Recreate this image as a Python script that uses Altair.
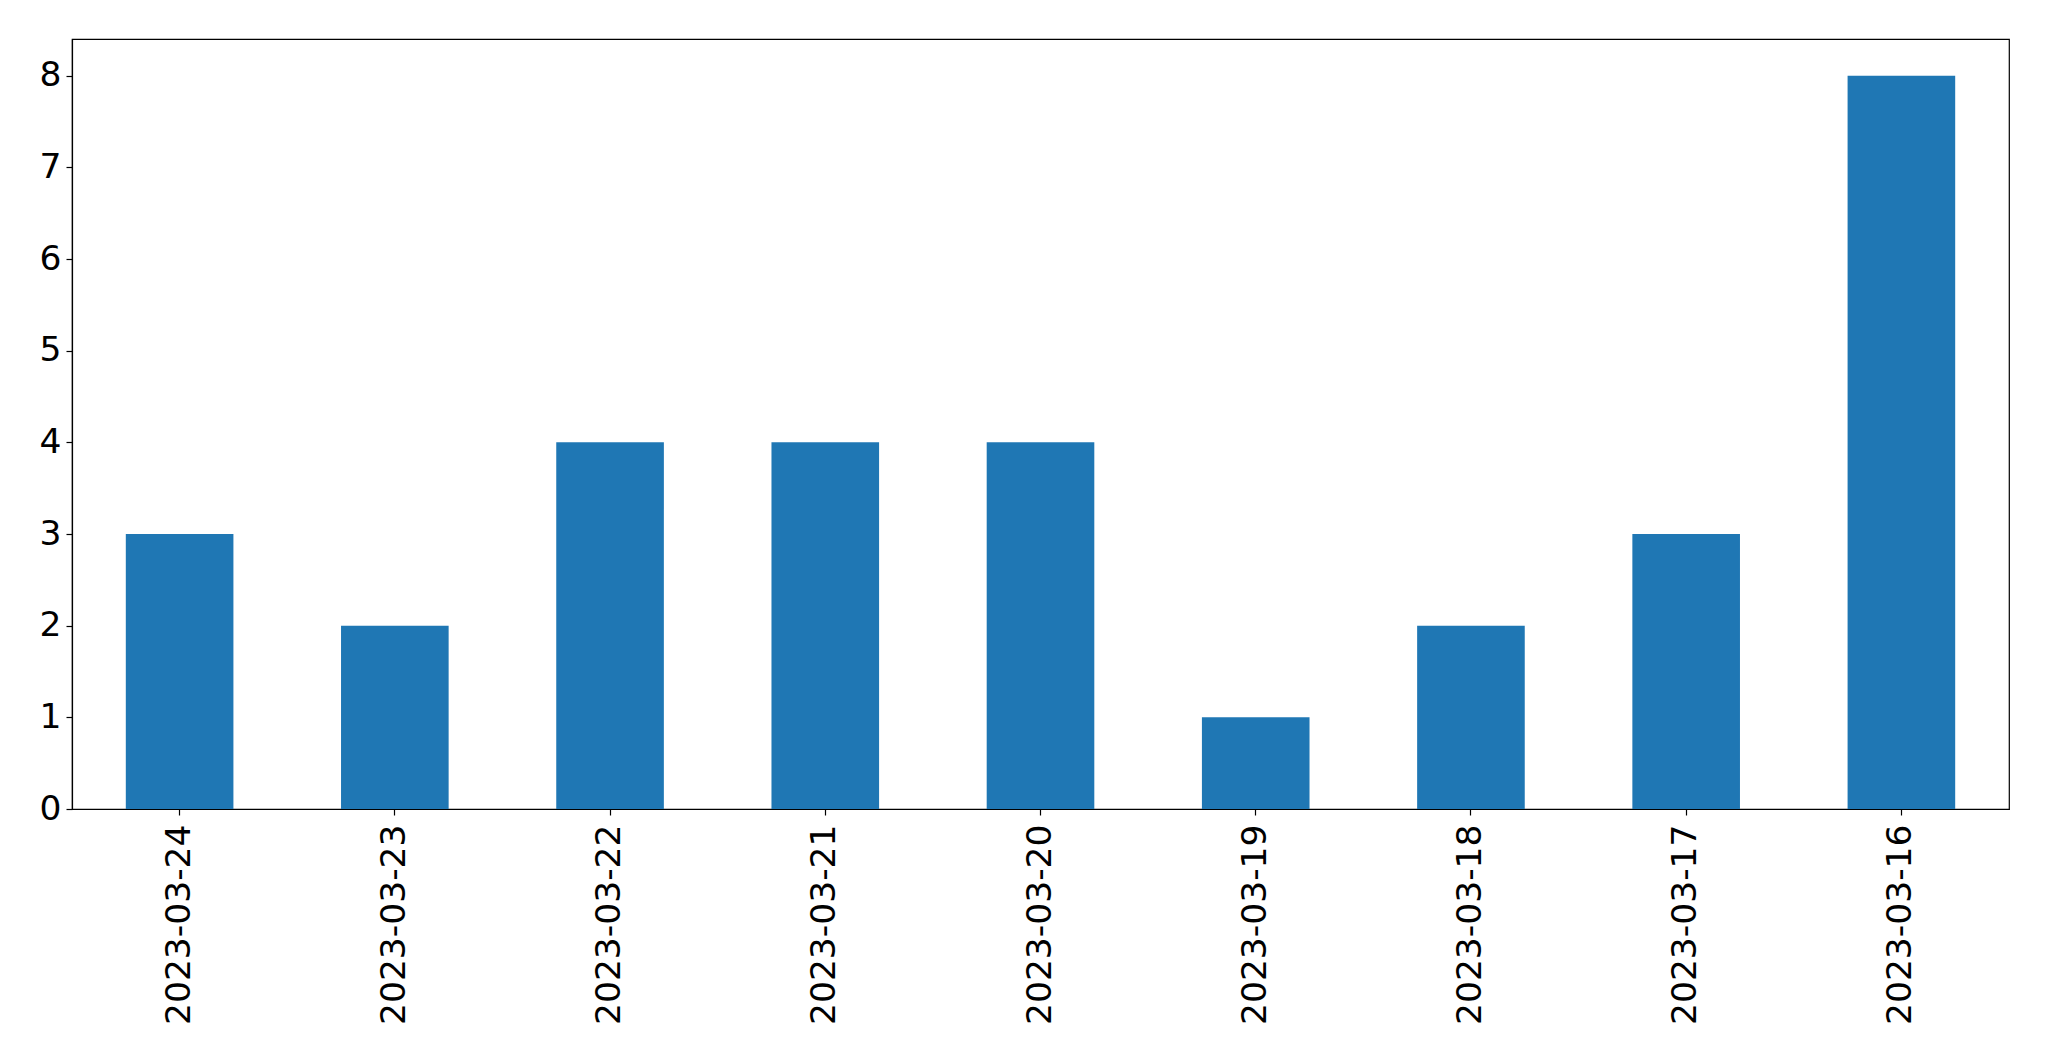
import altair as alt
import pandas as pd

dates = ["2023-03-24", "2023-03-23", "2023-03-22", "2023-03-21", "2023-03-20",
         "2023-03-19", "2023-03-18", "2023-03-17", "2023-03-16"]
counts = [3, 2, 4, 4, 4, 1, 2, 3, 8]
y_ticks = [0, 1, 2, 3, 4, 5, 6, 7, 8]

df = pd.DataFrame({"date": dates, "count": counts})

chart = alt.Chart(df).mark_bar(color="#1f77b4").encode(
    x=alt.X("date:N", sort=None, title=None,
            scale=alt.Scale(paddingInner=0.5, paddingOuter=0.25),
            axis=alt.Axis(labelAngle=-90, labelFontSize=34.5, labelFont="DejaVu Sans",
                          labelColor="black", tickColor="black", domainColor="black",
                          tickSize=6, labelPadding=9, grid=False, labelBaseline="middle",
                          labelAlign="right", labelLimit=0)),
    y=alt.Y("count:Q", title=None,
            scale=alt.Scale(domain=[0, 8.4], nice=False, zero=True),
            axis=alt.Axis(values=y_ticks, labelFontSize=34.5, labelFont="DejaVu Sans",
                          labelColor="black", tickColor="black", domainColor="black",
                          tickSize=6, labelPadding=5, grid=False, format="d")),
).properties(
    width=1937, height=770,
    autosize=alt.AutoSizeParams(type="none"),
    padding={"left": 72, "top": 39, "right": 40, "bottom": 252},
).configure_view(
    stroke="black", strokeWidth=1.2
).configure_axis(
    domainWidth=1.2, tickWidth=1.2
)

chart.save("out.html", embed_options={"renderer": "svg", "actions": False})
